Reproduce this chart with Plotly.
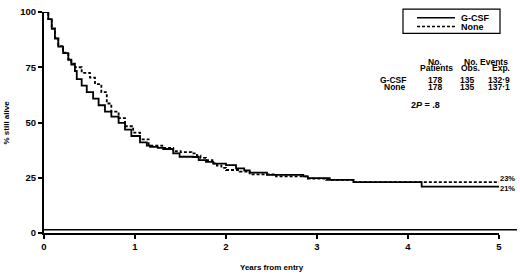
import plotly.graph_objects as go

# ---- data ----
gcsf_years = [0, 0.01, 0.047, 0.085, 0.12, 0.157, 0.21, 0.267, 0.30, 0.34, 0.36, 0.414,
              0.47, 0.54, 0.60, 0.67, 0.74, 0.82, 0.89, 0.96, 1.055, 1.13, 1.165, 1.25,
              1.31, 1.42, 1.49, 1.64, 1.70, 1.78, 1.86, 2.0, 2.11, 2.2, 2.26, 2.45, 2.85,
              2.9, 3.14, 3.4, 4.15, 5.0]
gcsf_alive = [100, 100, 96.8, 92.4, 88, 84.3, 81.4, 78.4, 76.2, 73.3, 69.6, 66.7,
              63.7, 60.8, 57.8, 54.9, 52.7, 49.8, 46.8, 43.9, 41, 39.5, 39, 38.5,
              38, 36, 34.5, 34.4, 33, 32.2, 31.4, 30.7, 29.2, 28.3, 27.3, 26.3, 25.6,
              24.8, 24, 23, 21, 21]

none_years = [0, 0.01, 0.047, 0.085, 0.12, 0.157, 0.21, 0.267, 0.30, 0.34, 0.414, 0.505,
              0.56, 0.63, 0.69, 0.74, 0.82, 0.89, 0.98, 1.055, 1.15, 1.3, 1.42, 1.5,
              1.62, 1.68, 1.72, 1.78, 1.85, 1.9, 1.95, 2.0, 2.15, 2.26, 2.55, 2.9, 3.1,
              3.4, 5.0]
none_alive = [100, 100, 96.8, 92.6, 88.4, 84.6, 81.6, 78.6, 76.6, 75, 72.5, 70.3,
              67.4, 63.7, 58.6, 54.9, 52, 48.3, 45.4, 42.4, 39.5, 38.5, 37, 36.6,
              36, 35, 34, 33, 31.5, 30.5, 29.5, 28.5, 27.8, 26.5, 25.6, 24.6, 24,
              23, 23]

x_ticks = [0, 1, 2, 3, 4, 5]
y_ticks = [0, 25, 50, 75, 100]

groups = ["G-CSF", "None"]
n_patients = [178, 178]
obs_events = [135, 135]
exp_events = ["132·9", "137·1"]
final_pct = ["23%", "21%"]
p_text = "2<i>P</i> = .8"

# ---- layout helpers (pixel -> paper) ----
L, R, T, B = 44, 499, 6, 233
W, H = 520, 278
def px(x):
    return (x - L) / (R - L)
def py(y):
    return (B - y) / (B - T)

FONT = "Liberation Sans, Arial, sans-serif"

fig = go.Figure()
fig.add_trace(go.Scatter(x=gcsf_years, y=gcsf_alive, mode="lines", line_shape="hv",
                         line=dict(color="black", width=1.8), name="G-CSF",
                         showlegend=False))
fig.add_trace(go.Scatter(x=none_years, y=none_alive, mode="lines", line_shape="hv",
                         line=dict(color="black", width=1.8, dash="3px,2px"),
                         name="None", showlegend=False))

shapes = []
shapes.append(dict(type="line", xref="paper", yref="y", x0=0, x1=px(517), y0=1.5, y1=1.5,
                   line=dict(color="black", width=1.5)))
shapes.append(dict(type="rect", xref="paper", yref="paper", x0=px(403), x1=px(500),
                   y0=py(28), y1=py(3), line=dict(color="black", width=1.2),
                   fillcolor="white"))
shapes.append(dict(type="line", xref="paper", yref="paper", x0=px(417), x1=px(455),
                   y0=py(12), y1=py(12), line=dict(color="black", width=1.5)))
shapes.append(dict(type="line", xref="paper", yref="paper", x0=px(417), x1=px(455),
                   y0=py(21), y1=py(21), line=dict(color="black", width=1.5, dash="3px,2px")))

ann = []
def text(t, x, y, anchor="center", size=8.5, **kw):
    ann.append(dict(text=t, xref="paper", yref="paper", x=px(x), y=py(y),
                    xanchor=anchor, yanchor="middle", showarrow=False,
                    font=dict(family=FONT, size=size, color="black", weight="bold"), **kw))

text(groups[0], 459, 12, "left", 9)
text(groups[1], 459, 21, "left", 9)
text("No.", 435, 57)
text("Patients", 436, 64)
text("No. Events", 486, 57)
text("Obs.", 470, 64)
text("Exp.", 512, 64, "right")
for i, (g, row_y) in enumerate(zip(groups, [76, 83])):
    text(g, 408, row_y, "right")
    text(str(n_patients[i]), 435, row_y)
    text(str(obs_events[i]), 467, row_y)
    text(exp_events[i], 512, row_y, "right")
text(p_text, 425, 102, size=9)
text(final_pct[0], 517, 177, "right", size=7.5)
text(final_pct[1], 517, 187, "right", size=7.5)
text("Years from entry", 272, 268, size=8)
text("% still alive", 6, 119.5, size=8, textangle=-90)

fig.update_layout(
    width=W, height=H,
    margin=dict(l=L, r=W - R, t=T, b=H - B),
    paper_bgcolor="white", plot_bgcolor="white",
    font=dict(family=FONT, size=9.5, color="black", weight="bold"),
    shapes=shapes, annotations=ann, showlegend=False,
    xaxis=dict(range=[0, 5], tickvals=x_ticks, showline=True, linecolor="black",
               linewidth=2, ticks="outside", ticklen=4, tickwidth=1.5,
               tickcolor="black", showgrid=False, zeroline=False, fixedrange=True),
    yaxis=dict(range=[0, 100], tickvals=y_ticks, showline=True, linecolor="black",
               linewidth=2, ticks="outside", ticklen=4, tickwidth=1.5,
               tickcolor="black", showgrid=False, zeroline=False, fixedrange=True),
)

fig.write_html("out.html", post_script="document.body.style.margin='0';",
               config={"displayModeBar": False})
